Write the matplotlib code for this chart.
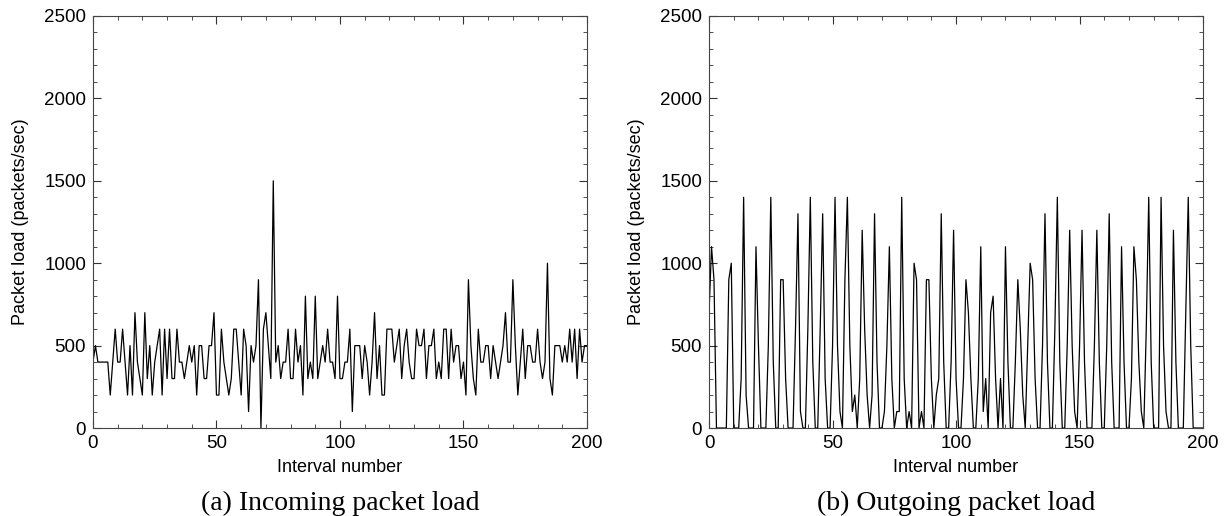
import matplotlib
matplotlib.use("Agg")
import matplotlib.pyplot as plt
import numpy as np
from matplotlib.ticker import MultipleLocator

# packet load per interval
incoming = [
    400, 500, 400, 400, 400, 400, 400, 200, 400, 600,
    400, 400, 600, 400, 200, 500, 200, 700, 400, 300,
    200, 700, 300, 500, 200, 400, 500, 600, 200, 600,
    300, 600, 300, 300, 600, 400, 400, 300, 400, 500,
    400, 500, 200, 500, 500, 300, 300, 500, 500, 700,
    200, 200, 600, 400, 300, 200, 300, 600, 600, 400,
    200, 600, 500, 100, 500, 400, 500, 900, 0, 600,
    700, 500, 300, 1500, 400, 500, 300, 400, 400, 600,
    300, 300, 600, 400, 500, 200, 800, 300, 400, 300,
    800, 300, 400, 500, 400, 600, 400, 400, 300, 800,
    300, 300, 400, 400, 600, 100, 500, 500, 500, 300,
    500, 400, 200, 400, 700, 300, 500, 200, 200, 600,
    600, 600, 400, 500, 600, 300, 500, 600, 400, 300,
    300, 600, 500, 500, 600, 300, 500, 500, 600, 300,
    400, 300, 600, 600, 300, 600, 400, 500, 500, 300,
    400, 200, 900, 500, 300, 200, 600, 400, 400, 500,
    500, 300, 500, 400, 300, 400, 500, 700, 400, 400,
    900, 500, 200, 400, 600, 300, 500, 500, 400, 400,
    600, 400, 300, 400, 1000, 300, 200, 500, 500, 500,
    400, 500, 400, 600, 400, 600, 300, 600, 400, 500,
    500,
]

outgoing = [
    700, 1100, 900, 0, 0, 0, 0, 0, 900, 1000,
    0, 0, 0, 300, 1400, 200, 0, 0, 0, 1100,
    500, 0, 0, 0, 500, 1400, 400, 0, 0, 900,
    900, 300, 0, 0, 0, 600, 1300, 100, 0, 0,
    600, 1400, 400, 0, 0, 600, 1300, 300, 0, 0,
    500, 1400, 500, 100, 0, 900, 1400, 500, 100, 200,
    0, 300, 1200, 600, 200, 0, 200, 1300, 400, 0,
    0, 100, 500, 1100, 300, 0, 100, 100, 1400, 300,
    0, 100, 0, 1000, 900, 0, 100, 0, 900, 900,
    300, 0, 200, 300, 1300, 400, 0, 0, 400, 1200,
    300, 0, 0, 300, 900, 700, 300, 0, 0, 300,
    1100, 100, 300, 0, 700, 800, 300, 0, 300, 0,
    1100, 400, 0, 0, 400, 900, 600, 200, 0, 500,
    1000, 900, 300, 0, 0, 500, 1300, 400, 0, 0,
    600, 1400, 400, 0, 0, 500, 1200, 500, 100, 0,
    500, 1200, 400, 0, 0, 0, 500, 1200, 400, 0,
    0, 500, 1300, 400, 0, 0, 0, 1100, 400, 0,
    0, 300, 1100, 900, 400, 100, 0, 600, 1400, 400,
    0, 0, 0, 1400, 500, 100, 0, 0, 1200, 400,
    0, 0, 0, 700, 1400, 500, 0, 0, 0, 0,
    0,
]

captions = ["(a) Incoming packet load", "(b) Outgoing packet load"]

plt.rcParams["font.family"] = ["Liberation Sans", "DejaVu Sans"]

fig = plt.figure(figsize=(12.28, 5.16), dpi=100)
ax_in = fig.add_axes([0.0757, 0.1705, 0.4023, 0.7985])
ax_out = fig.add_axes([0.5774, 0.1705, 0.4023, 0.7985])

for ax, values, cap in [(ax_in, incoming, captions[0]),
                        (ax_out, outgoing, captions[1])]:
    x = np.arange(len(values))
    ax.plot(x, values, color="black", lw=0.9)
    ax.set_xlim(0, 200)
    ax.set_ylim(0, 2500)
    ax.xaxis.set_major_locator(MultipleLocator(50))
    ax.xaxis.set_minor_locator(MultipleLocator(10))
    ax.yaxis.set_major_locator(MultipleLocator(500))
    ax.yaxis.set_minor_locator(MultipleLocator(100))
    ax.tick_params(which="both", direction="in", top=True, right=True,
                   labelsize=13.5, color="#333333")
    ax.tick_params(which="major", length=6, width=0.8, pad=5)
    ax.tick_params(which="minor", length=3, width=0.6)
    for sp in ax.spines.values():
        sp.set_color("#444444")
        sp.set_linewidth(0.8)
    ax.set_xlabel("Interval number", fontsize=13, labelpad=5)
    ax.set_ylabel("Packet load (packets/sec)", fontsize=13, labelpad=11)
    # caption under each panel, centred on the axes
    ax.text(0.5, -0.2, cap, transform=ax.transAxes, ha="center",
            va="baseline", fontsize=20,
            family=["Liberation Serif", "DejaVu Serif"])

fig.savefig("out.png", dpi=100)
